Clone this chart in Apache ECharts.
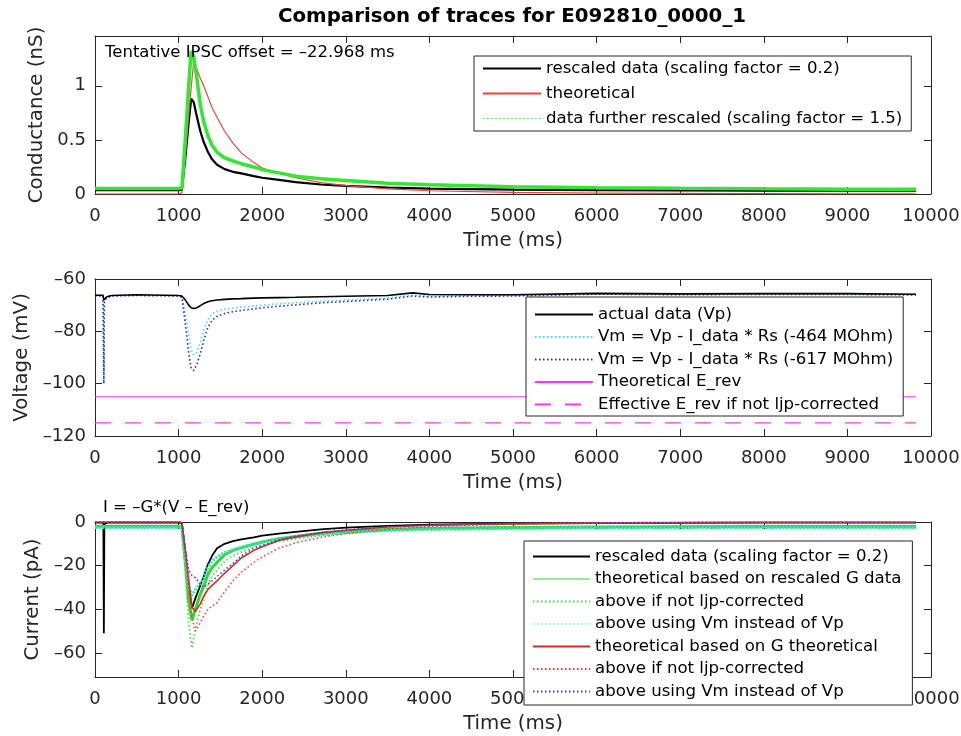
<!DOCTYPE html>
<html>
<head>
<meta charset="utf-8">
<title>Comparison of traces</title>
<script src="https://cdn.jsdelivr.net/npm/echarts@6/dist/echarts.min.js"></script>
<style>
  html, body { margin: 0; padding: 0; background: #fff; }
  #chart { width: 961px; height: 736px; }
</style>
</head>
<body>
<div id="chart"></div>
<script>
// conductance panel (nS)
var timeG = [0, 500, 1000, 1040, 1080, 1120, 1150, 1180, 1220, 1260, 1300, 1350, 1400, 1460, 1550, 1650, 1750, 1900, 2000, 2200, 2400, 2700, 3000, 3500, 4000, 5000, 6000, 7000, 8000, 9000, 9820];
var gRescaled = [0.035, 0.035, 0.035, 0.04, 0.33, 0.66, 0.88, 0.85, 0.71, 0.58, 0.48, 0.39, 0.32, 0.27, 0.23, 0.205, 0.19, 0.165, 0.15, 0.13, 0.11, 0.088, 0.075, 0.06, 0.05, 0.04, 0.035, 0.033, 0.032, 0.03, 0.03];
var gTheory = [0, 0, 0, 0.01, 0.37, 0.72, 0.98, 1.22, 1.15, 1.07, 1.0, 0.9, 0.8, 0.71, 0.58, 0.47, 0.38, 0.29, 0.24, 0.19, 0.15, 0.105, 0.078, 0.048, 0.03, 0.015, 0.008, 0.005, 0.003, 0.002, 0.002];
var gFurther = [0.05, 0.05, 0.05, 0.06, 0.5, 0.99, 1.32, 1.27, 1.06, 0.82, 0.67, 0.54, 0.45, 0.385, 0.335, 0.305, 0.28, 0.25, 0.225, 0.195, 0.165, 0.14, 0.125, 0.1, 0.085, 0.068, 0.058, 0.052, 0.048, 0.045, 0.045];

// voltage panel (mV)
var timeV = [0, 95, 100, 106, 112, 140, 200, 500, 1000, 1040, 1080, 1120, 1150, 1180, 1220, 1260, 1300, 1350, 1400, 1460, 1550, 1650, 1750, 1900, 2000, 2200, 2400, 2700, 3000, 3500, 3800, 4000, 4500, 5000, 6000, 7000, 8000, 9000, 9820];
var vActual = [-66.2, -66.2, -66.4, -68, -67.5, -66.8, -66.3, -66.0, -66.3, -66.5, -68, -70, -71, -71.3, -71, -70.2, -69.4, -68.7, -68.3, -68, -67.8, -67.6, -67.5, -67.3, -67.2, -67.1, -67, -66.8, -66.6, -66.3, -65.3, -65.9, -66, -66, -65.5, -65.7, -65.6, -65.6, -65.8];
var vRs464 = [-66.4, -66.4, -66.6, -96, -68.5, -67, -66.4, -66.2, -66.4, -66.8, -73, -81, -87, -89, -88, -84, -79.5, -75.5, -73.3, -72.3, -71.5, -71.1, -70.7, -70.3, -70, -69.5, -69.1, -68.5, -68.1, -67.3, -66.2, -66.6, -66.4, -66.3, -65.7, -65.9, -65.8, -65.8, -66];
var vRs617 = [-66.5, -66.5, -66.7, -100, -69, -67.2, -66.5, -66.3, -66.5, -67, -77, -88, -94, -95, -92.5, -88.5, -83.5, -78.5, -75.8, -74.3, -73.2, -72.5, -72, -71.4, -71, -70.4, -69.9, -69.1, -68.6, -67.7, -66.5, -66.9, -66.6, -66.5, -65.8, -66, -65.9, -65.9, -66.1];
var timeRev = [0, 9820];
var eRevTheory = [-105, -105];
var eRevEffective = [-115, -115];

// current panel (pA)
var timeI = [0, 100, 106, 112, 140, 1000, 1040, 1080, 1120, 1160, 1200, 1260, 1300, 1350, 1400, 1460, 1550, 1650, 1750, 1900, 2000, 2200, 2400, 2700, 3000, 3500, 4000, 5000, 6000, 7000, 8000, 9000, 9820];
var iData = [-0.3, -0.3, -51, -1, -0.3, -0.3, -0.6, -14, -30, -39.5, -35, -29, -25, -19.5, -15.5, -12, -10, -8.8, -8, -7, -6.2, -5.3, -4.5, -3.4, -2.6, -1.8, -1.2, -0.7, -0.5, -0.4, -0.3, -0.3, -0.3];
var iFromG = [-2, -2, -2, -2, -2, -2, -2.3, -18, -36, -45, -40, -33, -29.5, -24, -21, -18.5, -15, -13, -11.8, -10.2, -9.2, -7.7, -6.6, -5.2, -4.3, -3.4, -2.9, -2.5, -2.3, -2.2, -2.1, -2.1, -2.1];
var iFromGNoLjp = [-2.6, -2.6, -2.6, -2.6, -2.6, -2.6, -3, -23, -46, -57.8, -49, -40, -36, -29, -25, -22, -18, -15.5, -13.8, -11.8, -10.7, -9, -7.7, -6.2, -5.2, -4.1, -3.6, -3.2, -2.9, -2.8, -2.7, -2.7, -2.7];
var iFromGVm = [-2.5, -2.5, -2.5, -2.5, -2.5, -2.5, -2.8, -17, -30, -33.5, -31, -28, -26, -21, -18, -16, -14, -12.7, -11.6, -10.2, -9.3, -7.9, -6.9, -5.7, -4.9, -3.9, -3.3, -2.9, -2.6, -2.6, -2.5, -2.5, -2.5];
var iTheory = [0, 0, 0, 0, 0, 0, -0.3, -13, -26, -39, -41, -37.5, -34, -31, -29, -27, -23.5, -20, -16.5, -13, -11.3, -8.5, -6.8, -5, -3.8, -2.3, -1.5, -0.7, -0.4, -0.2, -0.1, -0.1, -0.1];
var iTheoryNoLjp = [0, 0, 0, 0, 0, 0, -0.3, -15, -31, -44, -50, -46, -43, -40, -38.5, -37, -32, -27, -23, -18.5, -16, -12, -9.5, -7, -5.3, -3.3, -2, -1, -0.5, -0.3, -0.2, -0.1, -0.1];
var iTheoryVm = [0, 0, 0, 0, 0, 0, -0.3, -12, -22, -24.5, -25.5, -28.5, -30, -28.5, -27, -25, -22, -19, -15.5, -12, -10.8, -8.2, -6.5, -4.8, -3.7, -2.2, -1.4, -0.7, -0.4, -0.2, -0.1, -0.1, -0.1];

// tick labels
var timeTicks = [0, 1000, 2000, 3000, 4000, 5000, 6000, 7000, 8000, 9000, 10000];
var gTicks = [0, 0.5, 1];
var vTicks = [-120, -100, -80, -60];
var iTicks = [-60, -40, -20, 0];

var FONT = 'DejaVu Sans';
var AXIS_COLOR = '#262626';

function pairs (xs, ys) {
  return xs.map(function (x, k) { return [x, ys[k]]; });
}

function minusLabel (v) {
  return String(v).replace('-', '\u2013');
}

var grids = [
  { left: 95, width: 836, top: 36, height: 158 },
  { left: 95, width: 836, top: 279, height: 157 },
  { left: 95, width: 836, top: 522, height: 155 }
];

var xAxes = [];
var yAxes = [];
var yRanges = [
  { min: 0, max: 1.46, ticks: gTicks, name: 'Conductance (nS)', gap: 39 },
  { min: -120, max: -60, ticks: vTicks, name: 'Voltage (mV)', gap: 61 },
  { min: -71, max: 0, ticks: iTicks, name: 'Current (pA)', gap: 49 }
];

grids.forEach(function (g, i) {
  g.outerBoundsMode = 'none';
  // bottom and top x axes make the box
  ['bottom', 'top'].forEach(function (pos) {
    xAxes.push({
      gridIndex: i,
      type: 'value',
      position: pos,
      min: 0,
      max: 10000,
      name: pos === 'bottom' ? 'Time (ms)' : '',
      nameLocation: 'middle',
      nameGap: 37,
      nameTextStyle: { fontFamily: FONT, fontSize: 19.8, color: AXIS_COLOR },
      axisLine: { onZero: false, lineStyle: { color: AXIS_COLOR, width: 1 } },
      axisTick: { inside: true, length: 7, customValues: timeTicks, lineStyle: { color: AXIS_COLOR } },
      axisLabel: {
        show: pos === 'bottom',
        customValues: timeTicks,
        margin: 13,
        fontFamily: FONT,
        fontSize: 18,
        color: AXIS_COLOR,
        formatter: minusLabel
      },
      splitLine: { show: false }
    });
  });
  var r = yRanges[i];
  ['left', 'right'].forEach(function (pos) {
    yAxes.push({
      gridIndex: i,
      type: 'value',
      position: pos,
      min: r.min,
      max: r.max,
      name: pos === 'left' ? r.name : '',
      nameLocation: 'middle',
      nameGap: r.gap,
      nameTextStyle: { fontFamily: FONT, fontSize: 19.8, color: AXIS_COLOR },
      axisLine: { show: true, onZero: false, lineStyle: { color: AXIS_COLOR, width: 1 } },
      axisTick: { show: true, inside: true, length: 7, customValues: r.ticks, lineStyle: { color: AXIS_COLOR } },
      axisLabel: {
        show: pos === 'left',
        customValues: r.ticks,
        margin: 9,
        fontFamily: FONT,
        fontSize: 18,
        color: AXIS_COLOR,
        formatter: minusLabel
      },
      splitLine: { show: false }
    });
  });
});

function line (name, panel, xs, ys, color, width, type, z) {
  return {
    name: name,
    type: 'line',
    xAxisIndex: panel * 2,
    yAxisIndex: panel * 2,
    data: pairs(xs, ys),
    symbol: 'none',
    smooth: false,
    z: z || 2,
    lineStyle: { color: color, width: width, type: type || 'solid' },
    itemStyle: { color: color }
  };
}

var DOT = [1.5, 2.5];
var series = [
  line('rescaled data (scaling factor = 0.2)', 0, timeG, gRescaled, '#000000', 2.2),
  line('theoretical', 0, timeG, gTheory, '#e8453c', 1.2),
  line('data further rescaled (scaling factor = 1.5)', 0, timeG, gFurther, '#33e633', 3.5, 'solid', 3),

  line('actual data (Vp)', 1, timeV, vActual, '#000000', 1.6, 'solid', 4),
  line('Vm = Vp - I_data * Rs (-464 MOhm)', 1, timeV, vRs464, '#3fdcec', 1.6, DOT),
  line('Vm = Vp - I_data * Rs (-617 MOhm)', 1, timeV, vRs617, '#2e2ea8', 1.6, DOT),
  line('Theoretical E_rev', 1, timeRev, eRevTheory, '#ff33ff', 1.2),
  line('Effective E_rev if not ljp-corrected', 1, timeRev, eRevEffective, '#ff33ff', 1.2, [16, 14]),

  line('rescaled data (scaling factor = 0.2) ', 2, timeI, iData, '#000000', 1.8),
  line('theoretical based on rescaled G data', 2, timeI, iFromG, '#33d633', 3),
  line('above if not ljp-corrected', 2, timeI, iFromGNoLjp, '#44e044', 1.8, DOT),
  line('above using Vm instead of Vp', 2, timeI, iFromGVm, '#2ee6cc', 3, [2, 1.5]),
  line('theoretical based on G theoretical', 2, timeI, iTheory, '#d42a2a', 1.6),
  line('above if not ljp-corrected ', 2, timeI, iTheoryNoLjp, '#ff3b3b', 1.6, DOT),
  line('above using Vm instead of Vp ', 2, timeI, iTheoryVm, '#3344dd', 1.6, DOT)
];

function legendBox (names, left, top, itemWidth, pad, gap, overrides) {
  return {
    orient: 'vertical',
    left: left,
    top: top,
    padding: pad,
    itemWidth: itemWidth,
    itemHeight: 14,
    itemGap: gap,
    selectedMode: false,
    backgroundColor: '#ffffff',
    borderColor: AXIS_COLOR,
    borderWidth: 1,
    borderRadius: 0,
    z: 10,
    // hide the marker, keep only the line sample
    itemStyle: { opacity: 0 },
    textStyle: { fontFamily: FONT, fontSize: 16.6, color: '#000' },
    data: names.map(function (n) {
      var item = { name: n };
      if (overrides && overrides[n]) item.lineStyle = overrides[n];
      return item;
    })
  };
}

var option = {
  backgroundColor: '#ffffff',
  animation: false,
  title: {
    text: 'Comparison of traces for E092810_0000_1',
    left: 512,
    top: 7,
    padding: 0,
    textAlign: 'center',
    textStyle: { fontFamily: FONT, fontSize: 19.8, fontWeight: 'bold', color: '#000' }
  },
  grid: grids,
  xAxis: xAxes,
  yAxis: yAxes,
  legend: [
    legendBox(series.slice(0, 3).map(function (s) { return s.name; }), 474, 56, 58, [4, 9, 4, 8], 8,
      { 'data further rescaled (scaling factor = 1.5)': { width: 1, type: DOT, color: '#33e633' } }),
    legendBox(series.slice(3, 8).map(function (s) { return s.name; }), 526, 297, 58, [9, 10, 3, 8], 5.5),
    legendBox(series.slice(8).map(function (s) { return s.name; }), 524, 541, 57, [7, 11, 5, 8], 5.5,
      {
        'theoretical based on rescaled G data': { width: 1.2 },
        'above using Vm instead of Vp': { width: 1.2, type: DOT }
      })
  ],
  graphic: [
    {
      type: 'text',
      x: 105,
      y: 53,
      z: 20,
      style: { text: 'Tentative IPSC offset = \u201322.968 ms', fontFamily: FONT, fontSize: 16.5, fill: '#000', align: 'left', verticalAlign: 'middle' }
    },
    {
      type: 'text',
      x: 103,
      y: 508,
      z: 20,
      style: { text: 'I = \u2013G*(V \u2013 E_rev)', fontFamily: FONT, fontSize: 16.5, fill: '#000', align: 'left', verticalAlign: 'middle' }
    }
  ],
  series: series
};

var chart = echarts.init(document.getElementById('chart'), null, { renderer: 'canvas' });
chart.setOption(option);
window.onresize = function () { chart.resize(); };
</script>
</body>
</html>
